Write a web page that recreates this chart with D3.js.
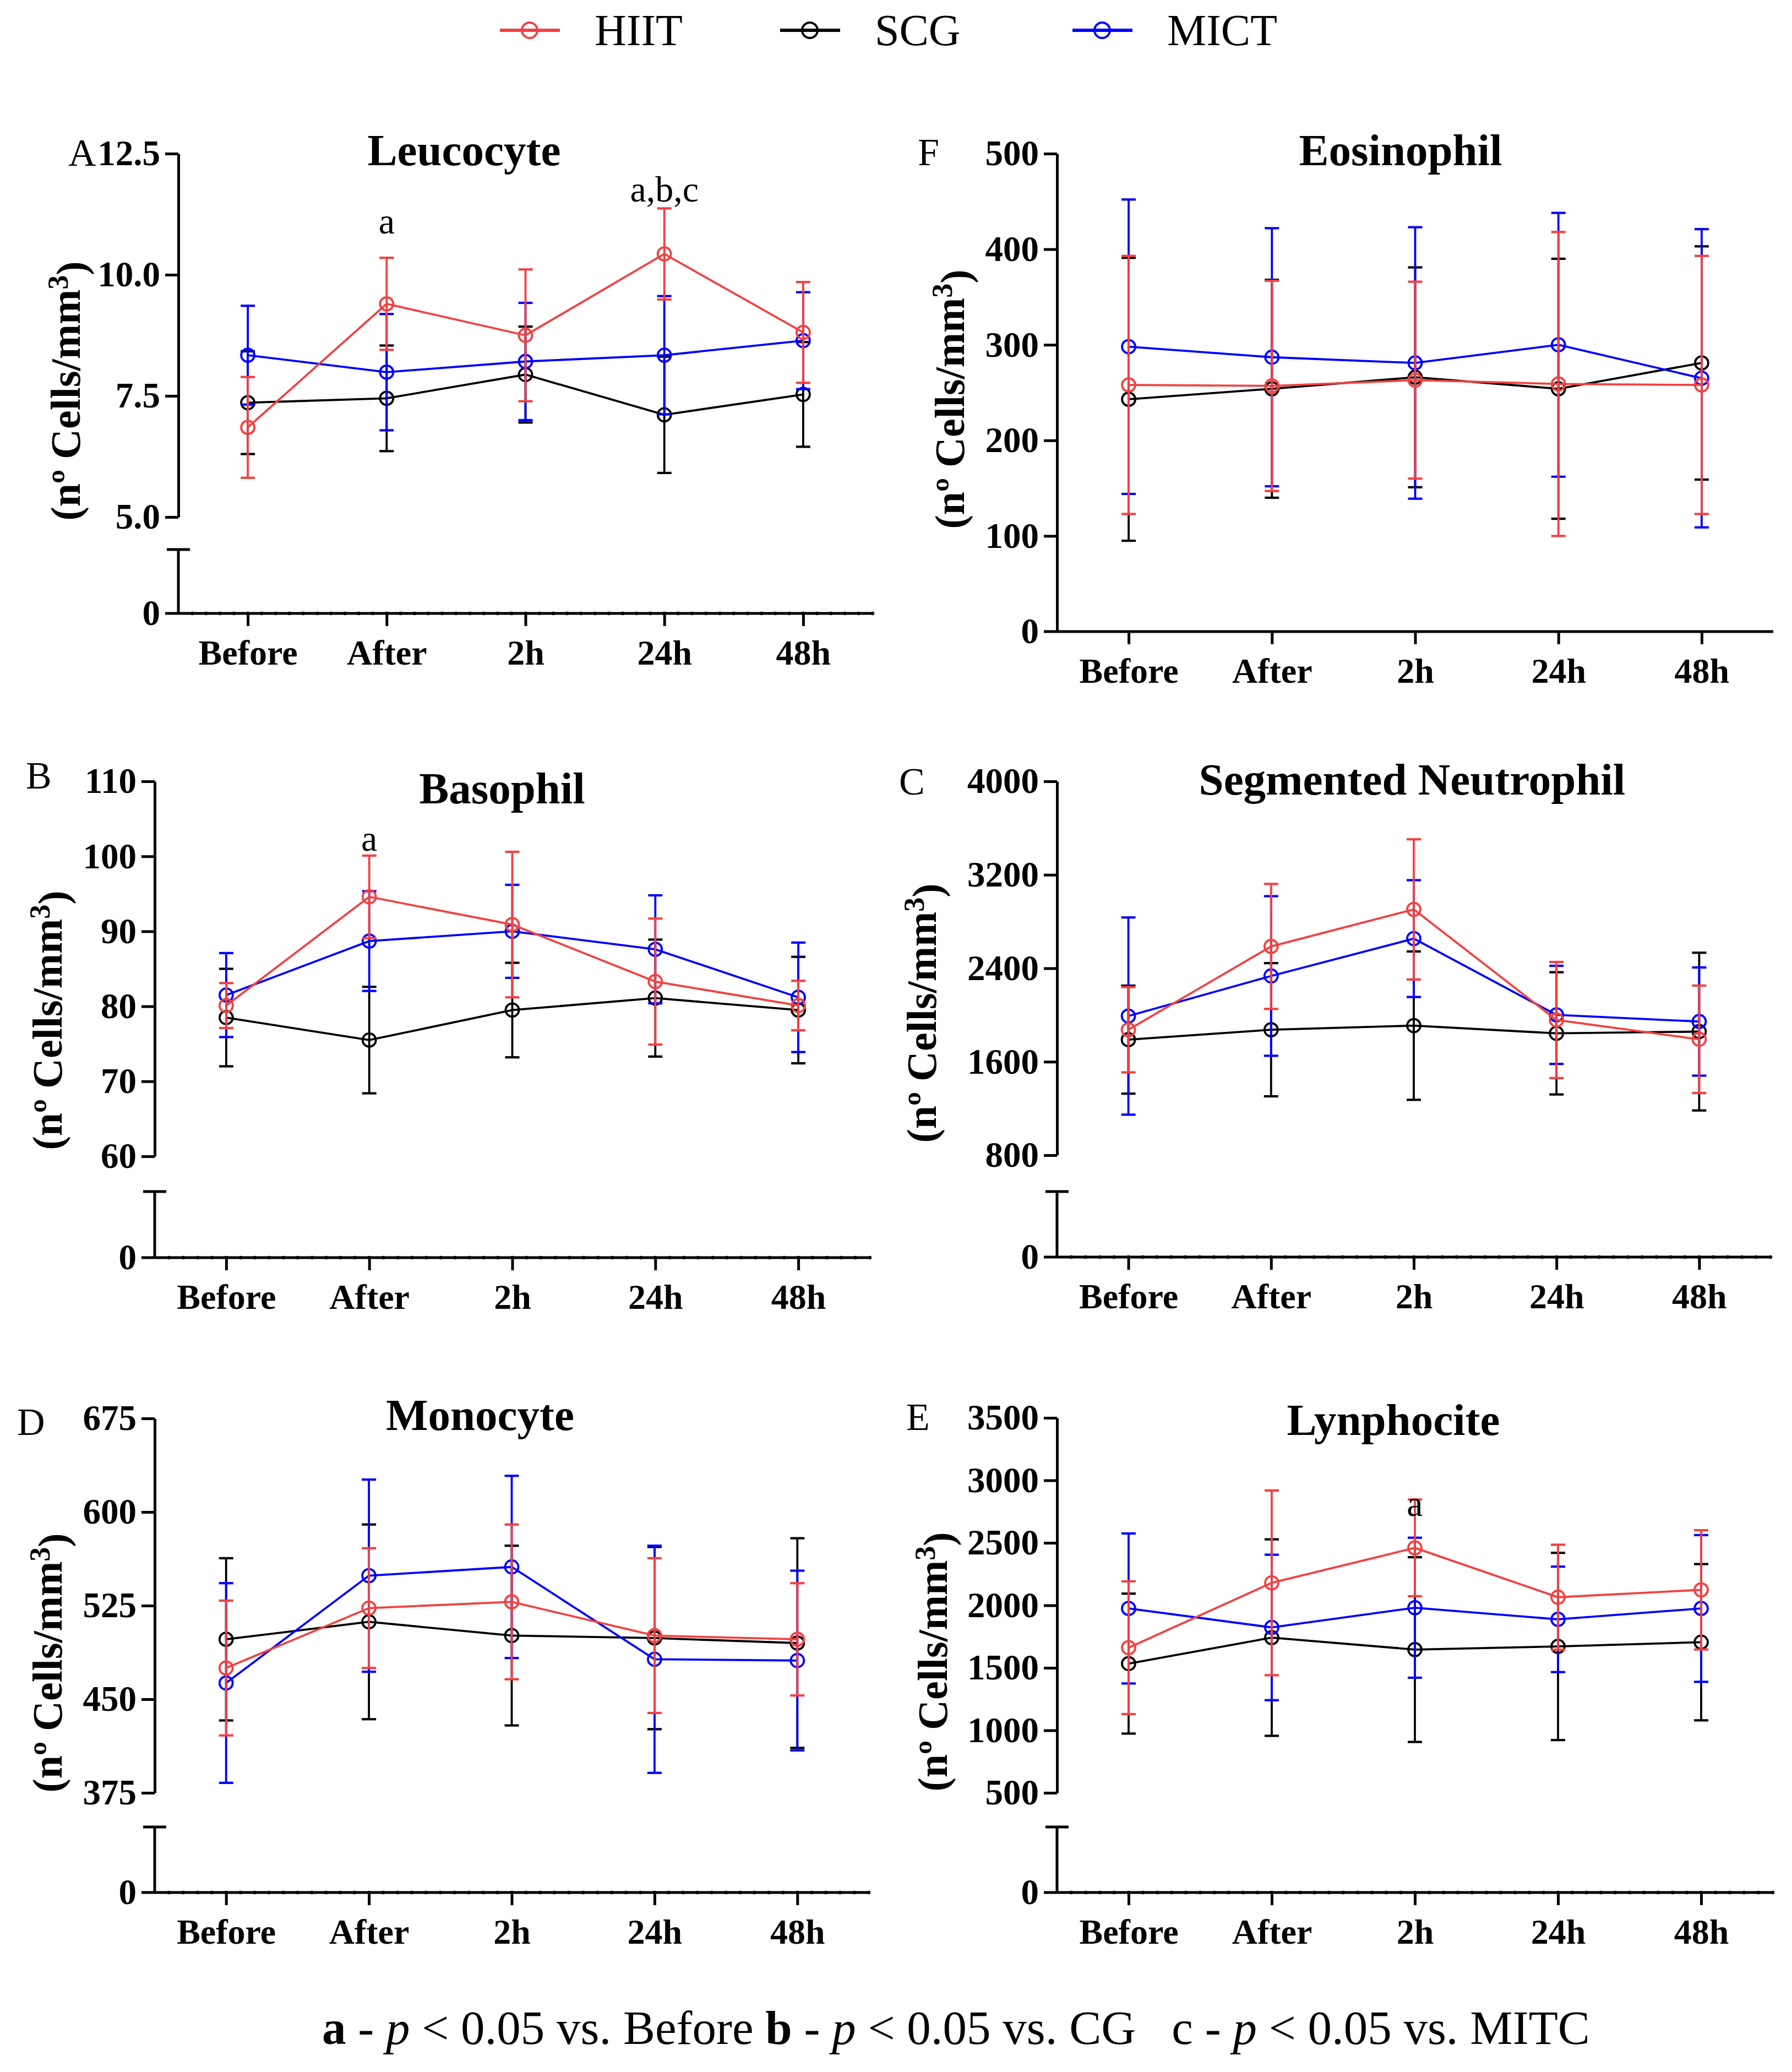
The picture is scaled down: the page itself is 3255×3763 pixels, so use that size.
<!DOCTYPE html>
<html><head><meta charset="utf-8">
<script src="https://cdn.jsdelivr.net/npm/d3@7"></script>
<style>
html,body{margin:0;padding:0;background:#fff;}
svg text, svg tspan{font-family:"Liberation Serif","Times New Roman",Times,serif;}
</style></head><body>
<svg id="chart" width="3255" height="3763" xmlns="http://www.w3.org/2000/svg"></svg>
<script>
// ---------------- DATA ----------------
const timepoints = ["Before", "After", "2h", "24h", "48h"];
const groups = ["HIIT", "SCG", "MICT"];

// each array: [HIIT, SCG, MICT] rows, values per timepoint
const leucocyteMean = [[6.85, 9.40, 8.75, 10.43, 8.81], [7.36, 7.45, 7.94, 7.11, 7.53], [8.34, 7.99, 8.21, 8.34, 8.64]];
const leucocyteSD   = [[1.04, 0.95, 1.36, 0.94, 1.04], [1.06, 1.09, 0.99, 1.20, 1.08], [1.02, 1.20, 1.21, 1.22, 1.00]];
const leucocyteTicks = [5.0, 7.5, 10.0, 12.5];
const leucocyteNotes = ["", "a", "", "a,b,c", ""];

const eosinophilMean = [[258, 257, 263, 259, 258], [243, 254, 266, 254, 281], [298, 287, 281, 300, 265]];
const eosinophilSD   = [[135, 110, 103, 159, 135], [148, 114, 115, 136, 122], [154, 135, 142, 138, 156]];
const eosinophilTicks = [0, 100, 200, 300, 400, 500];
const eosinophilNotes = ["", "", "", "", ""];

const basophilMean = [[80.1, 94.6, 90.9, 83.3, 80.1], [78.5, 75.5, 79.5, 81.1, 79.5], [81.5, 88.7, 90.0, 87.6, 81.2]];
const basophilSD   = [[3.0, 5.5, 9.7, 8.4, 3.3], [6.5, 7.1, 6.3, 7.8, 7.1], [5.6, 6.65, 6.2, 7.2, 7.3]];
const basophilTicks = [60, 70, 80, 90, 100, 110];
const basophilNotes = ["", "a", "", "", ""];

const neutrophilMean = [[1874, 2587, 2904, 1957, 1792], [1789, 1874, 1909, 1843, 1858], [1991, 2334, 2654, 2001, 1944]];
const neutrophilSD   = [[365, 535, 600, 497, 460], [462, 570, 635, 523, 675], [844, 683, 500, 420, 463]];
const neutrophilTicks = [800, 1600, 2400, 3200, 4000];
const neutrophilNotes = ["", "", "", "", ""];

const monocyteMean = [[475, 523, 528, 501, 498], [498, 512, 501, 499, 495], [463, 549, 556, 482, 481]];
const monocyteSD   = [[54, 48, 62, 62, 45], [65, 78, 72, 73, 84], [80, 77, 73, 91, 72]];
const monocyteTicks = [375, 450, 525, 600, 675];
const monocyteNotes = ["", "", "", "", ""];

const lymphocyteMean = [[1661, 2180, 2460, 2065, 2124], [1534, 1742, 1646, 1671, 1705], [1975, 1823, 1981, 1888, 1975]];
const lymphocyteSD   = [[531, 739, 387, 420, 477], [560, 786, 739, 749, 625], [600, 582, 560, 422, 587]];
const lymphocyteTicks = [500, 1000, 1500, 2000, 2500, 3000, 3500];
const lymphocyteNotes = ["", "", "a", "", ""];

const footnote = [
  {t: "a", b: true}, {t: " - "}, {t: "p", i: true}, {t: " < 0.05 vs. Before "},
  {t: "b", b: true}, {t: " - "}, {t: "p", i: true}, {t: " < 0.05 vs. CG   "},
  {t: "c"}, {t: " - "}, {t: "p", i: true}, {t: " < 0.05 vs. MITC"}
];

// ---------------- STYLE / LAYOUT ----------------
const colors = ["#F24141", "#000000", "#0000FF"];
const drawOrder = [1, 2, 0];

const panels = [
  {letter: "A", title: "Leucocyte", mean: leucocyteMean, sd: leucocyteSD, ticks: leucocyteTicks, notes: leucocyteNotes, fmt: ".1f", broken: true,
   axisX: 324, xEnd: 1585, yTop: 279, yBot: 939, lowTop: 998, zeroY: 1114,
   letterX: 124, letterY: 301, titleX: 843, titleY: 300, ylabX: 145, ylabY: 710, noteY: [0, 424, 0, 366, 0]},
  {letter: "F", title: "Eosinophil", mean: eosinophilMean, sd: eosinophilSD, ticks: eosinophilTicks, notes: eosinophilNotes, fmt: "d", broken: false,
   axisX: 1920, xEnd: 3221, yTop: 279, yBot: 1147, zeroY: 1147,
   letterX: 1667, letterY: 300, titleX: 2544, titleY: 300, ylabX: 1751, ylabY: 725, noteY: [0, 0, 0, 0, 0]},
  {letter: "B", title: "Basophil", mean: basophilMean, sd: basophilSD, ticks: basophilTicks, notes: basophilNotes, fmt: "d", broken: true,
   axisX: 281, xEnd: 1580, yTop: 1419, yBot: 2100, lowTop: 2164, zeroY: 2284,
   letterX: 47, letterY: 1432, titleX: 912, titleY: 1459, ylabX: 112, ylabY: 1853, noteY: [0, 1545, 0, 0, 0]},
  {letter: "C", title: "Segmented Neutrophil", mean: neutrophilMean, sd: neutrophilSD, ticks: neutrophilTicks, notes: neutrophilNotes, fmt: "d", broken: true,
   axisX: 1920, xEnd: 3216, yTop: 1419, yBot: 2098, lowTop: 2164, zeroY: 2283,
   letterX: 1633, letterY: 1443, titleX: 2565, titleY: 1443, ylabX: 1700, ylabY: 1840, noteY: [0, 0, 0, 0, 0]},
  {letter: "D", title: "Monocyte", mean: monocyteMean, sd: monocyteSD, ticks: monocyteTicks, notes: monocyteNotes, fmt: "d", broken: true,
   axisX: 281, xEnd: 1578, yTop: 2576, yBot: 3256, lowTop: 3318, zeroY: 3437,
   letterX: 31, letterY: 2606, titleX: 872, titleY: 2597, ylabX: 112, ylabY: 3020, noteY: [0, 0, 0, 0, 0]},
  {letter: "E", title: "Lynphocite", mean: lymphocyteMean, sd: lymphocyteSD, ticks: lymphocyteTicks, notes: lymphocyteNotes, fmt: "d", broken: true,
   axisX: 1920, xEnd: 3220, yTop: 2575, yBot: 3256, lowTop: 3318, zeroY: 3437,
   letterX: 1646, letterY: 2597, titleX: 2531, titleY: 2606, ylabX: 1720, ylabY: 3018, noteY: [0, 0, 2753, 0, 0]}
];

const AX_W = 5, LINE_W = 3.8, R = 12, CAP = 13;
const FONT = "Liberation Serif, Times New Roman, serif";
const svg = d3.select("#chart");
svg.append("rect").attr("width", 3255).attr("height", 3763).attr("fill", "#fff");

panels.forEach(p => {
  const g = svg.append("g");
  const x = d3.scaleLinear().domain([-0.5, 4.5]).range([p.axisX, p.xEnd]);
  const lo = d3.min(p.ticks), hi = d3.max(p.ticks);
  const y = d3.scaleLinear().domain([lo, hi]).range([p.yBot, p.yTop]);

  const yAxis = g.append("g").attr("transform", `translate(${p.axisX},0)`)
    .call(d3.axisLeft(y).tickValues(p.ticks).tickSize(24).tickSizeOuter(0).tickPadding(9).tickFormat(d3.format(p.fmt)));
  yAxis.attr("font-family", FONT);
  yAxis.select(".domain").attr("stroke-width", AX_W).attr("stroke", "#000");
  yAxis.selectAll(".tick line").attr("stroke-width", AX_W).attr("stroke", "#000");
  yAxis.selectAll(".tick text").attr("font-size", 65).attr("font-weight", "bold")
    .attr("font-family", FONT).attr("fill", "#000");
  if (!p.broken) yAxis.selectAll(".tick").filter(d => d === 0).select("line").remove();

  if (p.broken) {
    g.append("line").attr("x1", p.axisX).attr("x2", p.axisX).attr("y1", p.lowTop).attr("y2", p.zeroY)
      .attr("stroke", "#000").attr("stroke-width", AX_W);
    g.append("line").attr("x1", p.axisX - 21).attr("x2", p.axisX + 21).attr("y1", p.lowTop).attr("y2", p.lowTop)
      .attr("stroke", "#000").attr("stroke-width", AX_W);
    g.append("text").attr("x", p.axisX - 33).attr("y", p.zeroY).attr("dy", "0.32em").attr("text-anchor", "end")
      .attr("font-size", 65).attr("font-weight", "bold").text("0");
  }

  const xAxis = g.append("g").attr("transform", `translate(0,${p.zeroY})`)
    .call(d3.axisBottom(x).tickValues(d3.range(timepoints.length)).tickSize(23).tickSizeOuter(0).tickFormat(i => timepoints[i]));
  xAxis.attr("font-family", FONT);
  xAxis.select(".domain").remove();
  xAxis.selectAll(".tick line").attr("stroke-width", AX_W).attr("stroke", "#000");
  xAxis.selectAll(".tick text").attr("y", 93).attr("dy", null).attr("font-size", 64).attr("font-weight", "bold")
    .attr("font-family", FONT).attr("fill", "#000");
  g.append("line").attr("x1", p.axisX - 24).attr("x2", p.xEnd).attr("y1", p.zeroY).attr("y2", p.zeroY)
    .attr("stroke", "#000").attr("stroke-width", AX_W);
  if (p.broken) {
    g.append("g").selectAll("circle").data(d3.range(1, 51)).join("circle")
      .attr("cx", k => x(-0.5 + k * 0.1)).attr("cy", p.zeroY).attr("r", 3.2).attr("fill", "#000");
  }

  drawOrder.forEach(si => {
    const c = colors[si];
    const m = p.mean[si], s = p.sd[si];
    const pts = m.map((v, i) => ({i, v, s: s[i]}));
    const sg = g.append("g");
    sg.selectAll("line.eb").data(pts).join("line").attr("class", "eb")
      .attr("x1", d => x(d.i)).attr("x2", d => x(d.i)).attr("y1", d => y(d.v - d.s)).attr("y2", d => y(d.v + d.s))
      .attr("stroke", c).attr("stroke-width", LINE_W);
    sg.selectAll("line.capT").data(pts).join("line").attr("class", "capT")
      .attr("x1", d => x(d.i) - CAP).attr("x2", d => x(d.i) + CAP).attr("y1", d => y(d.v + d.s)).attr("y2", d => y(d.v + d.s))
      .attr("stroke", c).attr("stroke-width", 4.2);
    sg.selectAll("line.capB").data(pts).join("line").attr("class", "capB")
      .attr("x1", d => x(d.i) - CAP).attr("x2", d => x(d.i) + CAP).attr("y1", d => y(d.v - d.s)).attr("y2", d => y(d.v - d.s))
      .attr("stroke", c).attr("stroke-width", 4.2);
    sg.append("path").datum(pts)
      .attr("d", d3.line().x(d => x(d.i)).y(d => y(d.v)))
      .attr("fill", "none").attr("stroke", c).attr("stroke-width", LINE_W);
    sg.selectAll("circle").data(pts).join("circle")
      .attr("cx", d => x(d.i)).attr("cy", d => y(d.v)).attr("r", R)
      .attr("fill", "none").attr("stroke", c).attr("stroke-width", 3.8);
  });

  p.notes.forEach((t, i) => {
    if (!t) return;
    g.append("text").attr("x", x(i)).attr("y", p.noteY[i]).attr("text-anchor", "middle")
      .attr("font-size", 66).text(t);
  });

  g.append("text").attr("x", p.titleX).attr("y", p.titleY).attr("text-anchor", "middle")
    .attr("font-size", 81).attr("font-weight", "bold").text(p.title);
  g.append("text").attr("x", p.letterX).attr("y", p.letterY).attr("font-size", 70).text(p.letter);
  const yl = g.append("text").attr("transform", `translate(${p.ylabX},${p.ylabY}) rotate(-90)`)
    .attr("text-anchor", "middle").attr("font-size", 76).attr("font-weight", "bold");
  yl.append("tspan").text("(nº Cells/mm");
  yl.append("tspan").attr("dy", "-0.42em").attr("font-size", 52).text("3");
  yl.append("tspan").attr("dy", "0.42em").text(")");
});

const legendX = [962, 1471, 2002];
const legend = svg.append("g");
groups.forEach((name, i) => {
  const cx = legendX[i];
  legend.append("line").attr("x1", cx - 54).attr("x2", cx + 55).attr("y1", 55).attr("y2", 55)
    .attr("stroke", colors[i]).attr("stroke-width", 6);
  legend.append("circle").attr("cx", cx).attr("cy", 55).attr("r", 14).attr("fill", "none")
    .attr("stroke", colors[i]).attr("stroke-width", 4);
  legend.append("text").attr("x", cx + 118).attr("y", 82).attr("font-size", 80).text(name);
});

const ft = svg.append("text").attr("x", 585).attr("y", 3712).attr("font-size", 87).style("white-space", "pre");
footnote.forEach(f => {
  const ts = ft.append("tspan").text(f.t);
  if (f.b) ts.attr("font-weight", "bold");
  if (f.i) ts.attr("font-style", "italic");
});
</script>
</body></html>
